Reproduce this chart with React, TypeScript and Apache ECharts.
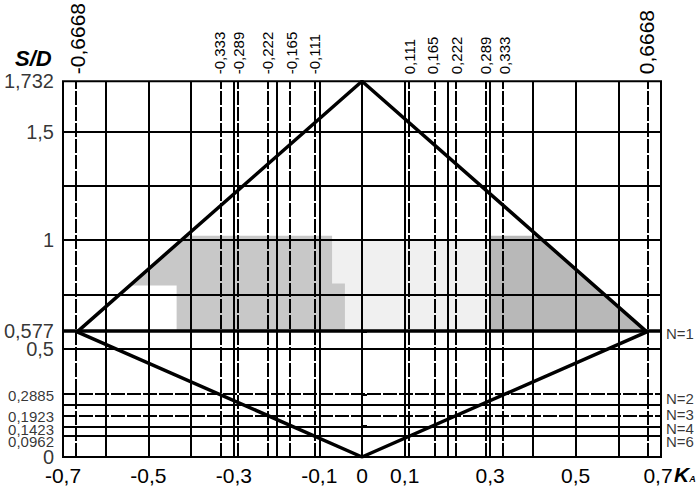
import React, { useEffect, useRef } from "react";
import * as echarts from "echarts";

// ---- data ----
const xMin = -0.7;
const xMax = 0.7;
const yMin = 0;
const yMax = 1.732;

const bottomTickValues = [-0.7, -0.5, -0.3, -0.1, 0, 0.1, 0.3, 0.5, 0.7];
const topTickValues = [-0.6668, -0.333, -0.289, -0.222, -0.165, -0.111, 0.111, 0.165, 0.222, 0.289, 0.333, 0.6668];
const bigTopTicks = [-0.6668, 0.6668];
// left labels: text value and where it sits on the axis (the crowded ones sit slightly apart)
const leftTickValues = [1.732, 1.5, 1, 0.577, 0.5, 0.2885, 0.1923, 0.1423, 0.0962, 0];
const leftTickPositions = [1.732, 1.5, 1, 0.58, 0.497, 0.283, 0.188, 0.129, 0.071, 0];
const smallLeftTicks = [0.0962, 0.1423, 0.1923, 0.2885];
const nLabels = ["N=1", "N=2", "N=3", "N=4", "N=6"];
const nLabelPositions = [0.568, 0.268, 0.194, 0.133, 0.07];
const nTickValues = [0.577, 0.2885, 0.1923, 0.1423, 0.0962];

const solidVLines = [-0.6, -0.5, -0.4, -0.3, -0.2, -0.1, 0, 0.1, 0.2, 0.3, 0.4, 0.5, 0.6];
const dashedVLines = [-0.6668, -0.333, -0.289, -0.222, -0.165, -0.111, 0.111, 0.165, 0.222, 0.289, 0.333, 0.6668];
const solidHLines = [1.5, 1.25, 1, 0.75, 0.5, 0.24, 0.1423, 0.0962];
const dashedHLines = [0.2885, 0.1923];
const thickHLines = [0.577];

const diamond: [number, number][] = [
  [-0.6668, 0.577],
  [0, 1.732],
  [0.6668, 0.577],
  [0, 0],
  [-0.6668, 0.577],
];

const lightZone: [number, number][] = [
  [-0.07, 0.577], [-0.07, 1.0], [0.3, 1.0], [0.3, 0.577],
];
const leftZone: [number, number][] = [
  [-0.544, 0.79], [-0.411, 1.02], [-0.07, 1.02], [-0.07, 0.8], [-0.04, 0.8],
  [-0.04, 0.577], [-0.434, 0.577], [-0.434, 0.79],
];
const rightZone: [number, number][] = [
  [0.3, 1.02], [0.411, 1.02], [0.6668, 0.577], [0.3, 0.577],
];
const zones = [lightZone, leftZone, rightZone];
const zoneColors = ["#f0f0f0", "#c8c8c8", "#b8b8b8"];

const FONT = "'Liberation Sans', Arial, sans-serif";
const fmt = (v: number) => String(v).replace(".", ",");
const near = (a: number, list: number[]) => list.some((b) => Math.abs(a - b) < 1e-6);

export default function App() {
  const ref = useRef<HTMLDivElement>(null);
  useEffect(() => {
    if (!ref.current) return;
    const chart = echarts.init(ref.current, undefined, { renderer: "svg" });

    const markData: any[] = [];
    solidVLines.forEach((v) => markData.push({ xAxis: v, lineStyle: { type: "solid", width: 2, color: "#000" } }));
    dashedVLines.forEach((v) => markData.push({ xAxis: v, lineStyle: { type: [14, 2], width: 2, color: "#000" } }));
    solidHLines.forEach((v) => markData.push({ yAxis: v, lineStyle: { type: "solid", width: 2, color: "#000" } }));
    dashedHLines.forEach((v) => markData.push({ yAxis: v, lineStyle: { type: [14, 2], width: 2, color: "#000" } }));
    thickHLines.forEach((v) => markData.push({ yAxis: v, lineStyle: { type: "solid", width: 3.5, color: "#000" } }));

    const leftLabelData = leftTickValues.map((v, i) => {
      const small = near(v, smallLeftTicks);
      return {
        value: [xMin, leftTickPositions[i]],
        label: {
          formatter: fmt(v),
          fontSize: small ? 15 : 20,
          lineHeight: small ? 10 : 14,
        },
      };
    });
    const nLabelData = nLabels.map((t, i) => ({
      value: [xMax, nLabelPositions[i]],
      label: { formatter: t },
    }));

    const option: any = {
      animation: false,
      backgroundColor: "#fff",
      textStyle: { fontFamily: FONT },
      grid: { left: 63, right: 38, top: 80, bottom: 34, show: true, borderColor: "#000", borderWidth: 2, backgroundColor: "transparent" },
      xAxis: [
        {
          type: "value", min: xMin, max: xMax, position: "bottom",
          axisLine: { show: false }, axisTick: { show: false }, splitLine: { show: false },
          axisLabel: {
            customValues: bottomTickValues,
            formatter: (v: number) => (Math.abs(v - xMax) < 1e-6 ? `{r|${fmt(v)}}` : `{n|${fmt(v)}}`),
            showMinLabel: true, showMaxLabel: true, hideOverlap: false, margin: 10,
            rich: {
              n: { fontSize: 21, fontFamily: FONT, color: "#000", lineHeight: 16 },
              r: { fontSize: 21, fontFamily: FONT, color: "#000", lineHeight: 16, padding: [0, 6, 0, 0] },
            },
          },
        },
        {
          type: "value", min: xMin, max: xMax, position: "top",
          axisLine: { show: false }, axisTick: { show: false }, splitLine: { show: false },
          axisLabel: {
            customValues: topTickValues, rotate: 90, margin: 7,
            showMinLabel: true, showMaxLabel: true, hideOverlap: false,
            formatter: (v: number) => (near(v, bigTopTicks) ? `{b|${fmt(v)}}` : `{s|${fmt(v)}}`),
            rich: {
              b: { fontSize: 21, fontFamily: FONT, color: "#000" },
              s: { fontSize: 15, fontFamily: FONT, color: "#000" },
            },
          },
        },
      ],
      yAxis: [
        {
          type: "value", min: yMin, max: yMax, position: "left",
          axisLine: { show: false }, axisTick: { show: false }, splitLine: { show: false },
          axisLabel: { show: false },
        },
        {
          type: "value", min: yMin, max: yMax, position: "right",
          axisLine: { show: false }, splitLine: { show: false },
          axisTick: { show: true, customValues: nTickValues, length: 5, lineStyle: { color: "#000", width: 2 } },
          axisLabel: { show: false },
        },
      ],
      series: [
        {
          type: "custom",
          xAxisIndex: 0, yAxisIndex: 0,
          z: 1, silent: true,
          data: zones.map((_, i) => i),
          renderItem: (params: any, api: any) => {
            const idx = api.value(0);
            const pts = zones[idx].map((p) => api.coord(p));
            return { type: "polygon", shape: { points: pts }, style: { fill: zoneColors[idx], stroke: "none" } };
          },
          encode: { x: -1, y: -1 },
        },
        {
          type: "line",
          xAxisIndex: 0, yAxisIndex: 0,
          z: 3, silent: true, symbol: "none",
          data: [],
          markLine: { symbol: ["none", "none"], silent: true, label: { show: false }, data: markData, z: 2 },
        },
        {
          type: "line",
          xAxisIndex: 0, yAxisIndex: 0,
          z: 5, silent: true, symbol: "none",
          lineStyle: { color: "#000", width: 3.5 },
          data: diamond,
        },
        {
          type: "scatter",
          xAxisIndex: 0, yAxisIndex: 0,
          z: 6, silent: true, symbolSize: 0, clip: false,
          data: leftLabelData,
          label: { show: true, position: "left", distance: 9, color: "#000", fontFamily: FONT },
          labelLayout: { hideOverlap: false },
        },
        {
          type: "scatter",
          xAxisIndex: 0, yAxisIndex: 0,
          z: 6, silent: true, symbolSize: 0, clip: false,
          data: nLabelData,
          label: { show: true, position: "right", distance: 5, color: "#000", fontFamily: FONT, fontSize: 15, lineHeight: 11 },
          labelLayout: { hideOverlap: false },
        },
      ],
      graphic: [
        { type: "text", left: 15, top: 47, style: { text: "S/D", font: `italic bold 22px ${FONT}`, fill: "#000" } },
        {
          type: "text", left: 674, top: 464,
          style: {
            text: "{k|K}{a|A}",
            rich: {
              k: { font: `italic bold 21px ${FONT}`, fill: "#000" },
              a: { font: `italic bold 9px ${FONT}`, fill: "#000", padding: [9, 0, 0, 0] },
            },
          },
        },
      ],
    };
    chart.setOption(option);
    return () => chart.dispose();
  }, []);
  return <div ref={ref} style={{ position: "absolute", left: 0, top: 0, width: 699, height: 491 }} />;
}
